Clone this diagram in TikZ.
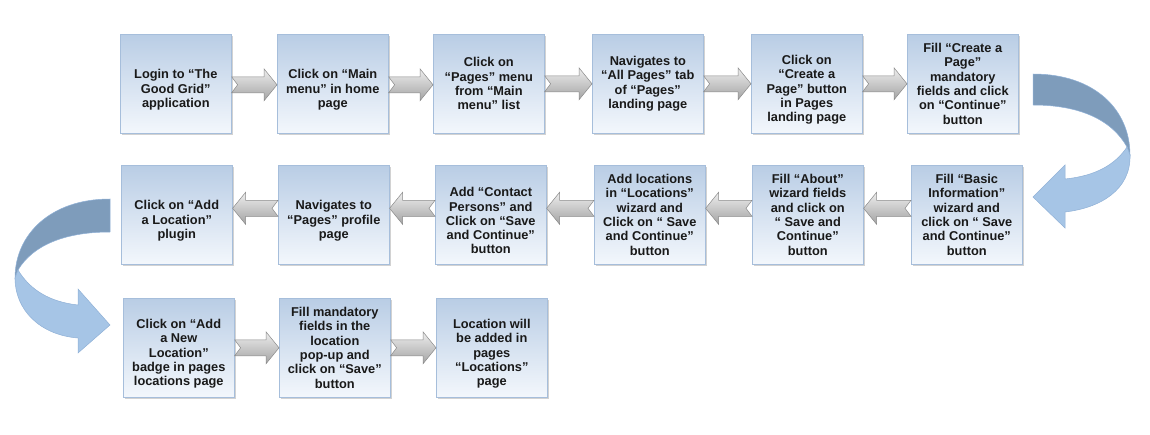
\documentclass[tikz,border=0pt]{standalone}
\usepackage{fontspec}
\setmainfont{Liberation Sans}
\usetikzlibrary{calc,shadows}
\definecolor{boxtop}{HTML}{B9CDE5}
\definecolor{boxbot}{HTML}{F3F7FC}
\definecolor{boxline}{HTML}{A6BEDB}
\definecolor{arrtop}{HTML}{EEEEEE}
\definecolor{arrbot}{HTML}{A3A3A3}
\definecolor{arrline}{HTML}{8A8A8A}
\definecolor{cdark}{HTML}{7E9CBB}
\definecolor{clight}{HTML}{A6C5E6}
\definecolor{cline}{HTML}{8FB0D6}
\tikzset{
  stepbox/.style={draw=boxline, line width=0.6pt, top color=boxtop, bottom color=boxbot,
    minimum width=111pt, minimum height=99pt, anchor=north west, inner sep=0pt,
    drop shadow={shadow xshift=1.2pt, shadow yshift=-1.5pt, opacity=0.25, fill=black!70}},
  lbl/.style={align=center, font=\fontsize{12.8}{14.3}\selectfont\bfseries, text=black!90, inner sep=0pt},
  blockarr/.style={draw=arrline, line width=0.5pt, top color=arrtop, bottom color=arrbot},
  curvedark/.style={fill=cdark, draw=cline, line width=0.5pt},
  curvelight/.style={fill=clight, draw=cline, line width=0.5pt},
}
% right-pointing block arrow from box #1 to box #2, vertical offset #3
\newcommand\rarr[3]{\path[blockarr]
  ($(#1.east)+(0,#3+8)$) -- ($(#2.west)+(-13,#3+8)$) -- ($(#2.west)+(-13,#3+16)$) --
  ($(#2.west)+(0,#3)$) -- ($(#2.west)+(-13,#3-16)$) -- ($(#2.west)+(-13,#3-8)$) --
  ($(#1.east)+(0,#3-8)$) -- ($(#1.east)+(6,#3)$) -- cycle;}
% left-pointing block arrow from box #1 to box #2, vertical offset #3
\newcommand\larr[3]{\path[blockarr]
  ($(#1.west)+(0,#3+8)$) -- ($(#2.east)+(13,#3+8)$) -- ($(#2.east)+(13,#3+16)$) --
  ($(#2.east)+(0,#3)$) -- ($(#2.east)+(13,#3-16)$) -- ($(#2.east)+(13,#3-8)$) --
  ($(#1.west)+(0,#3-8)$) -- ($(#1.west)+(-6,#3)$) -- cycle;}
\begin{document}
\begin{tikzpicture}[x=1pt,y=1pt]
\useasboundingbox (0,0) rectangle (1150,-435);
% row 1
\node[stepbox] (b1) at (120,-34) {};
\node[stepbox] (b2) at (277,-34) {};
\node[stepbox] (b3) at (433,-34) {};
\node[stepbox] (b4) at (592,-34) {};
\node[stepbox] (b5) at (751,-34) {};
\node[stepbox] (b6) at (907,-34) {};
% row 2
\node[stepbox] (b7) at (911,-165) {};
\node[stepbox] (b8) at (752,-165) {};
\node[stepbox] (b9) at (594,-165) {};
\node[stepbox] (b10) at (435,-165) {};
\node[stepbox] (b11) at (278,-165) {};
\node[stepbox] (b12) at (121,-165) {};
% row 3
\node[stepbox] (b13) at (123,-298) {};
\node[stepbox] (b14) at (279,-298) {};
\node[stepbox] (b15) at (436,-298) {};
% labels
\node[lbl] (t1) at ($(b1.center)+(0,-6)$) {Login to “The\\Good Grid”\\application};
\node[lbl] (t2) at ($(b2.center)+(0,-6)$) {Click on “Main\\menu” in home\\page};
\node[lbl] (t3) at (b3.center) {Click on\\“Pages” menu\\from “Main\\menu” list};
\node[lbl] (t4) at (b4.center) {Navigates to\\“All Pages” tab\\of “Pages”\\landing page};
\node[lbl] (t5) at ($(b5.center)+(0,-6)$) {Click on\\“Create a\\Page” button\\in Pages\\landing page};
\node[lbl] (t6) at (b6.center) {Fill “Create a\\Page”\\mandatory\\fields and click\\on “Continue”\\button};
\node[lbl] (t7) at (b7.center) {Fill “Basic\\Information”\\wizard and\\click on “ Save\\and Continue”\\button};
\node[lbl] (t8) at (b8.center) {Fill “About”\\wizard fields\\and click on\\“ Save and\\Continue”\\button};
\node[lbl] (t9) at (b9.center) {Add locations\\in “Locations”\\wizard and\\Click on “ Save\\and Continue”\\button};
\node[lbl] (t10) at ($(b10.center)+(0,-6)$) {Add “Contact\\Persons” and\\Click on “Save\\and Continue”\\button};
\node[lbl] (t11) at ($(b11.center)+(0,-6)$) {Navigates to\\“Pages” profile\\page};
\node[lbl] (t12) at ($(b12.center)+(0,-6)$) {Click on “Add\\a Location”\\plugin};
\node[lbl] (t13) at ($(b13.center)+(0,-6)$) {Click on “Add\\a New\\Location”\\badge in pages\\locations page};
\node[lbl] (t14) at (b14.center) {Fill mandatory\\fields in the\\location\\pop-up and\\click on “Save”\\button};
\node[lbl] (t15) at ($(b15.center)+(0,-6)$) {Location will\\be added in\\pages\\“Locations”\\page};
% straight block arrows
\rarr{b1}{b2}{-1}
\rarr{b2}{b3}{-1}
\rarr{b3}{b4}{0}
\rarr{b4}{b5}{0}
\rarr{b5}{b6}{0}
\larr{b7}{b8}{6.5}
\larr{b8}{b9}{6.5}
\larr{b9}{b10}{6.5}
\larr{b10}{b11}{6.5}
\larr{b11}{b12}{6.5}
\rarr{b13}{b14}{0}
\rarr{b14}{b15}{0}
% curved arrow on the right (row 1 -> row 2)
\path[curvedark] (1033,-74) .. controls (1095,-74) and (1130,-110) .. (1130,-155)
  -- (1127,-147) .. controls (1112,-120) and (1080,-105) .. (1033,-105) -- cycle;
\path[curvelight] (1127,-147) .. controls (1115,-165) and (1095,-176) .. (1065,-179)
  -- (1065,-165) -- (1033,-197) -- (1065,-228) -- (1065,-212)
  .. controls (1100,-208) and (1131,-190) .. (1130,-155) -- cycle;
% curved arrow on the left (row 2 -> row 3)
\path[curvedark] (110,-199) .. controls (50,-199) and (15,-235) .. (15,-278)
  -- (18,-270) .. controls (33,-245) and (65,-232) .. (110,-232) -- cycle;
\path[curvelight] (18,-270) .. controls (30,-290) and (50,-302) .. (78,-305)
  -- (78,-289) -- (110,-325) -- (78,-353) -- (78,-338)
  .. controls (40,-335) and (15,-310) .. (15,-278) -- cycle;
\end{tikzpicture}
\end{document}
